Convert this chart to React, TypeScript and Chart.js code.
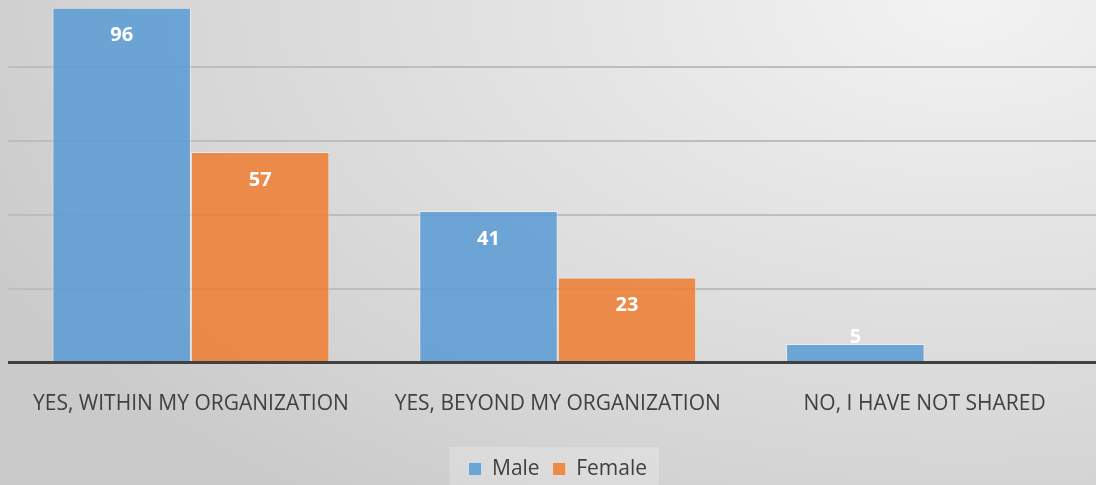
import React, { useEffect, useRef } from "react";
import { Chart, registerables } from "chart.js";

Chart.register(...registerables);

const categories = ["YES, WITHIN MY ORGANIZATION", "YES, BEYOND MY ORGANIZATION", "NO, I HAVE NOT SHARED"];
const maleValues = [96, 41, 5];
const femaleValues = [57, 23, null];
const seriesNames = ["Male", "Female"];
const yTicks = [0, 20, 40, 60, 80, 100];

const FONT = "'Open Sans', 'DejaVu Sans', sans-serif";

const labelPlugin = {
  id: "barLabels",
  afterDatasetsDraw(chart: any) {
    const ctx = chart.ctx;
    const base = chart.scales.y.getPixelForValue(0);
    ctx.save();
    ctx.fillStyle = "#ffffff";
    ctx.font = `bold 20px ${FONT}`;
    ctx.textAlign = "center";
    ctx.textBaseline = "middle";
    chart.data.datasets.forEach((ds: any, i: number) => {
      const meta = chart.getDatasetMeta(i);
      meta.data.forEach((bar: any, j: number) => {
        const v = ds.data[j];
        if (v === null || v === undefined) return;
        const y = Math.min(bar.y + 28, base - 25);
        ctx.fillText(String(v), bar.x, y);
      });
    });
    ctx.restore();
  },
};

const legendBgPlugin = {
  id: "legendBg",
  beforeDraw(chart: any) {
    const lg = chart.legend;
    if (!lg || !lg.legendHitBoxes || !lg.legendHitBoxes.length) return;
    const boxes = lg.legendHitBoxes;
    let l = Infinity, r = -Infinity, t = Infinity, b = -Infinity;
    boxes.forEach((h: any) => {
      l = Math.min(l, h.left);
      r = Math.max(r, h.left + h.width);
      t = Math.min(t, h.top);
      b = Math.max(b, h.top + h.height);
    });
    const ctx = chart.ctx;
    ctx.save();
    ctx.fillStyle = "rgba(255,255,255,0.22)";
    const cy = (t + b) / 2;
    ctx.fillRect(l - 19, cy - 22, r - l + 31, 70);
    ctx.restore();
  },
};

export default function App() {
  const ref = useRef<HTMLCanvasElement>(null);
  useEffect(() => {
    if (!ref.current) return;
    const chart = new Chart(ref.current, {
      type: "bar",
      data: {
        labels: categories,
        datasets: [
          {
            label: seriesNames[0],
            data: maleValues,
            backgroundColor: "rgba(91,155,213,0.86)",
            borderColor: "rgba(255,255,255,0.45)",
            borderWidth: 1,
          },
          {
            label: seriesNames[1],
            data: femaleValues as any,
            backgroundColor: "rgba(237,125,49,0.86)",
            borderColor: "rgba(255,255,255,0.45)",
            borderWidth: 1,
          },
        ],
      },
      options: {
        responsive: false,
        animation: false,
        devicePixelRatio: 1,
        layout: { padding: { top: 13, left: 7.5, right: 0, bottom: 10.5 } },
        datasets: { bar: { categoryPercentage: 0.755, barPercentage: 1 } },
        scales: {
          x: {
            grid: { display: false, drawTicks: false },
            border: { display: false },
            ticks: {
              color: "#404040",
              font: { family: FONT, size: 21 },
              padding: 29,
              maxRotation: 0,
              autoSkip: false,
            },
            afterFit(scale: any) {
              scale.height = 83;
            },
          },
          y: {
            min: 0,
            max: 100,
            afterBuildTicks(scale: any) {
              scale.ticks = yTicks.map((v) => ({ value: v }));
            },
            ticks: { display: false },
            border: { display: false },
            grid: {
              drawTicks: false,
              color: (c: any) => (c.tick && c.tick.value === 0 ? "#404040" : "#bdbdbd"),
              lineWidth: (c: any) => (c.tick && c.tick.value === 0 ? 3 : 2),
            },
          },
        },
        plugins: {
          tooltip: { enabled: false },
          legend: {
            position: "bottom",
            labels: {
              color: "#404040",
              font: { family: FONT, size: 21 },
              boxWidth: 13,
              boxHeight: 13,
              padding: 13,
            },
          },
        },
      },
      plugins: [labelPlugin, legendBgPlugin],
    } as any);
    return () => chart.destroy();
  }, []);

  return (
    <div
      style={{
        position: "fixed",
        left: 0,
        top: 0,
        width: 1096,
        height: 485,
        overflow: "hidden",
        background:
          "radial-gradient(ellipse 100% 130% at 88% 0%, #f3f3f3 0%, #e3e3e3 40%, #d4d4d4 78%, #cacaca 100%)",
      }}
    >
      <canvas
        ref={ref}
        width={1108}
        height={520}
        style={{ position: "absolute", left: 0, top: -20, width: 1108, height: 520 }}
      />
    </div>
  );
}
